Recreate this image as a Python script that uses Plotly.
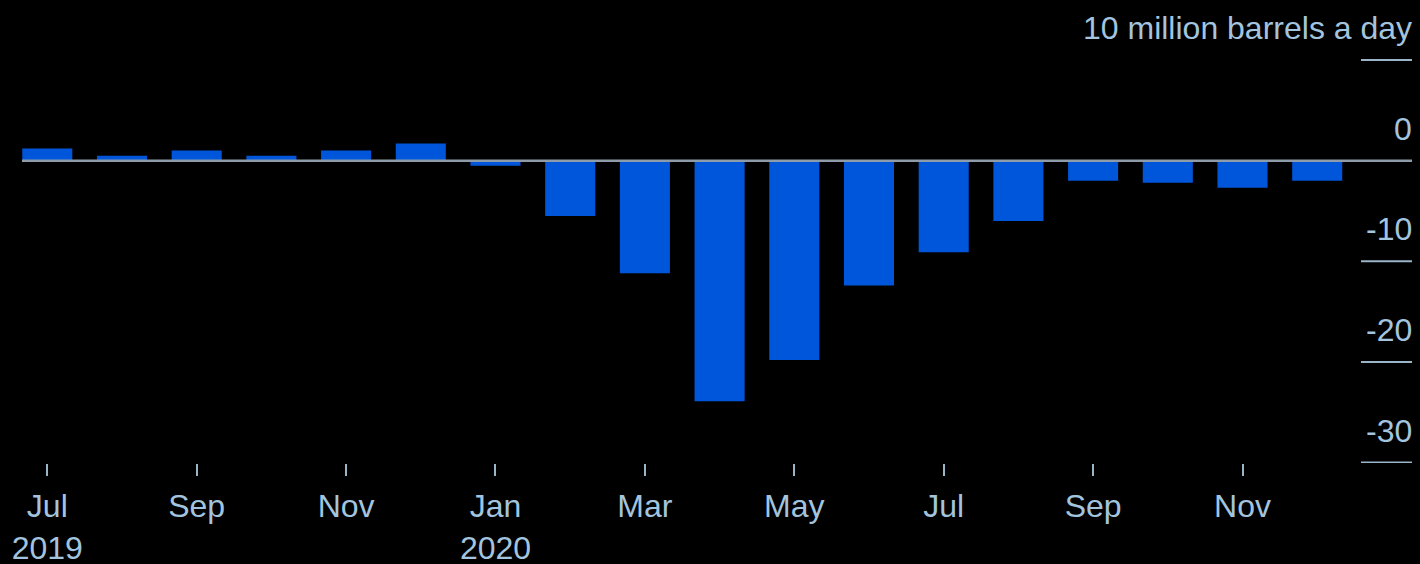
import plotly.graph_objects as go

months = ["Jul 2019", "Aug 2019", "Sep 2019", "Oct 2019", "Nov 2019", "Dec 2019",
          "Jan 2020", "Feb 2020", "Mar 2020", "Apr 2020", "May 2020", "Jun 2020",
          "Jul 2020", "Aug 2020", "Sep 2020", "Oct 2020", "Nov 2020", "Dec 2020"]
values = [1.2, 0.5, 1.0, 0.5, 1.0, 1.7,
          -0.5, -5.5, -11.2, -23.9, -19.8, -12.4,
          -9.1, -6.0, -2.0, -2.2, -2.7, -2.0]

x_tick_months = ["Jul 2019", "Sep 2019", "Nov 2019", "Jan 2020", "Mar 2020",
                 "May 2020", "Jul 2020", "Sep 2020", "Nov 2020"]
x_tick_labels = ["Jul<br>2019", "Sep", "Nov", "Jan<br>2020", "Mar",
                 "May", "Jul", "Sep", "Nov"]

y_ticks = [10, 0, -10, -20, -30]
y_tick_labels = ["10 million barrels a day", "0", "-10", "-20", "-30"]

TEXT = "#a3c4de"
LINE = "#9ab4c8"
BAR = "#0056da"
FONT = "Liberation Sans, Arial, sans-serif"
FS = 32

x_idx = [months.index(m) for m in months]
x_tick_idx = [months.index(m) for m in x_tick_months]

fig = go.Figure()
fig.add_trace(go.Bar(x=x_idx, y=values, marker=dict(color=BAR, line=dict(width=0)),
                     width=0.67, hoverinfo="skip"))

W, H = 1420, 564
ml, mr, mt, mb = 0, 8, 0, 101
pw = W - ml - mr

fig.update_layout(
    width=W, height=H,
    margin=dict(l=ml, r=mr, t=mt, b=mb, autoexpand=False),
    paper_bgcolor="#000000", plot_bgcolor="#000000",
    showlegend=False,
    font=dict(family=FONT, size=FS, color=TEXT),
    xaxis=dict(type="linear", range=[-0.633, 18.269], automargin=False,
               tickmode="array", tickvals=x_tick_idx, ticktext=x_tick_labels,
               ticks="outside", ticklen=12, tickwidth=2, tickcolor=LINE,
               ticklabelstandoff=3,
               showgrid=False, showline=False, zeroline=False,
               tickfont=dict(family=FONT, size=FS, color=TEXT)),
    yaxis=dict(range=[-30.05, 15.97], automargin=False,
               showticklabels=False, ticks="",
               showgrid=False, showline=False, zeroline=False),
)

shapes = [dict(type="line", xref="paper", yref="y", x0=22 / pw, x1=1, y0=0, y1=0,
               line=dict(color="#8d9ca8", width=2.5), layer="above")]
for v in y_ticks:
    if v != 0:
        shapes.append(dict(type="line", xref="paper", yref="y", x0=1361 / pw, x1=1,
                           y0=v, y1=v, line=dict(color=LINE, width=2), layer="above"))
fig.update_layout(shapes=shapes)

for v, t in zip(y_ticks, y_tick_labels):
    fig.add_annotation(x=1, xref="paper", y=v, yref="y", text=t, showarrow=False,
                       xanchor="right", yanchor="bottom", yshift=12, xshift=2,
                       font=dict(family=FONT, size=FS, color=TEXT))

fig.write_html("out.html", config={"displayModeBar": False},
               post_script="document.body.style.margin='0';document.body.style.background='#000';")
